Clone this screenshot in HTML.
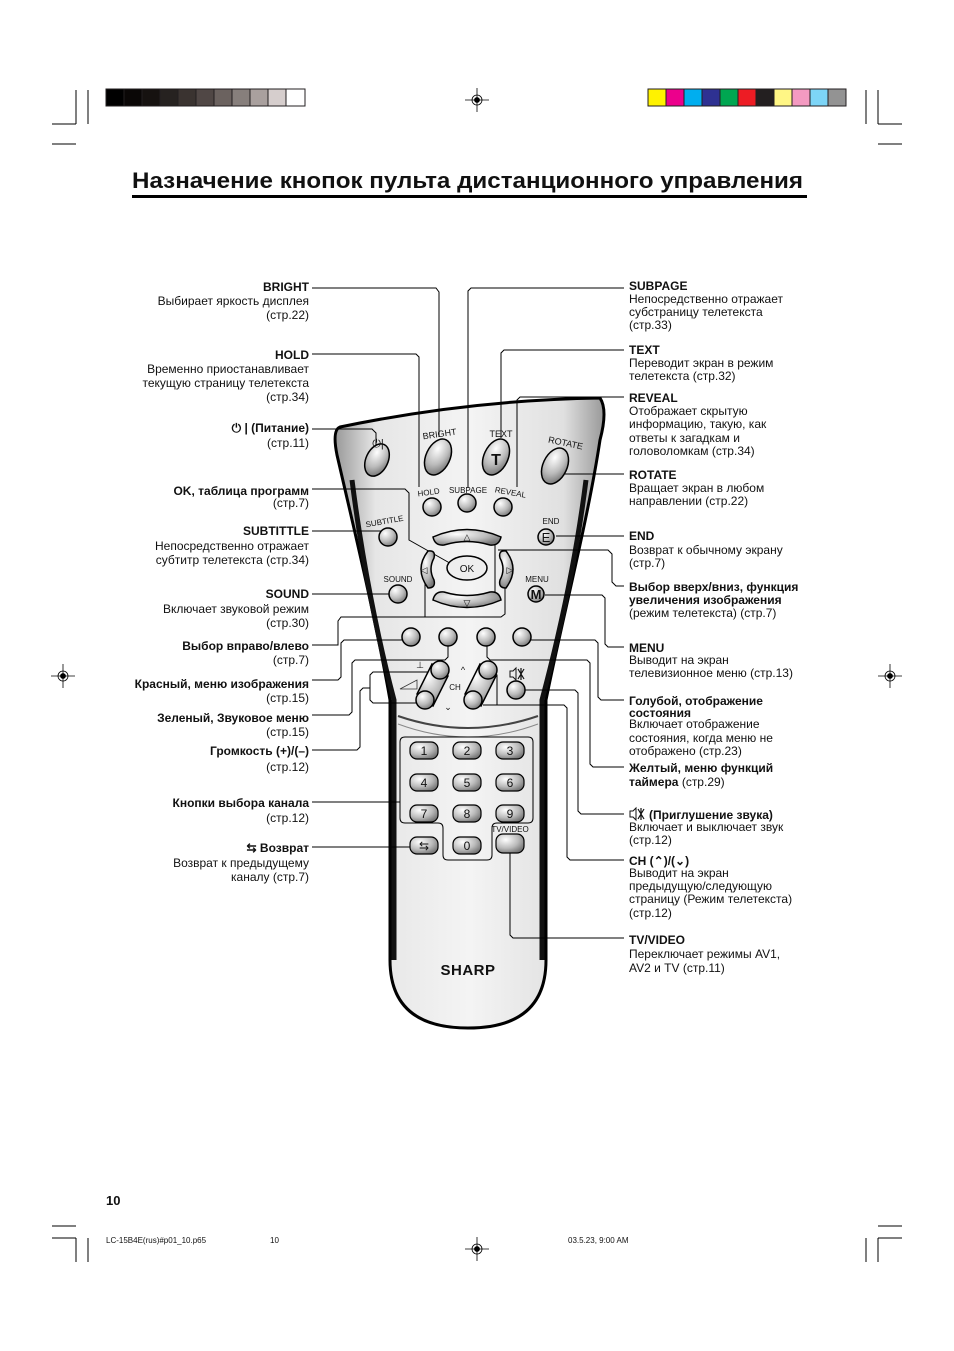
<!DOCTYPE html>
<html><head><meta charset="utf-8"><style>
html,body{margin:0;padding:0;background:#fff}
svg{display:block}
text{font-family:"Liberation Sans",Arial,sans-serif;font-size:12px;fill:#111}
.b{font-weight:bold}
.e{text-anchor:end}
.s{font-size:9px}
.c{text-anchor:middle}
</style></head><body>
<svg width="954" height="1351" viewBox="0 0 954 1351" xmlns="http://www.w3.org/2000/svg">
<defs>
<radialGradient id="g" cx="35%" cy="30%" r="75%"><stop offset="0" stop-color="#fff"/><stop offset="0.6" stop-color="#bbb"/><stop offset="1" stop-color="#777"/></radialGradient>
<linearGradient id="bd" x1="0" x2="1"><stop offset="0" stop-color="#999"/><stop offset="0.15" stop-color="#e6e6e6"/><stop offset="0.5" stop-color="#f4f4f4"/><stop offset="0.85" stop-color="#e0e0e0"/><stop offset="1" stop-color="#999"/></linearGradient>
<g id="mute"><path d="M0,-3 L3,-3 L6,-6 L6,6 L3,3 L0,3 Z" fill="none" stroke="#111" stroke-width="1"/><path d="M8,-5 L14,5 M14,-5 L8,5 M11,-6 L11,6" stroke="#111" stroke-width="1.2"/></g>
</defs>
<!-- top bars -->
<g stroke="#231f20" stroke-width="1">
<rect x="106" y="89" width="18" height="17" fill="#000"/><rect x="124" y="89" width="18" height="17" fill="#0a0706"/><rect x="142" y="89" width="18" height="17" fill="#161210"/><rect x="160" y="89" width="18" height="17" fill="#262220"/><rect x="178" y="89" width="18" height="17" fill="#3a3330"/><rect x="196" y="89" width="18" height="17" fill="#504745"/><rect x="214" y="89" width="18" height="17" fill="#6b625f"/><rect x="232" y="89" width="18" height="17" fill="#877f7c"/><rect x="250" y="89" width="18" height="17" fill="#a9a09e"/><rect x="268" y="89" width="18" height="17" fill="#d6cecd"/><rect x="286" y="89" width="19" height="17" fill="#fff"/>
<rect x="648" y="89" width="18" height="17" fill="#fff200"/><rect x="666" y="89" width="18" height="17" fill="#ec008c"/><rect x="684" y="89" width="18" height="17" fill="#00aeef"/><rect x="702" y="89" width="18" height="17" fill="#2e3192"/><rect x="720" y="89" width="18" height="17" fill="#00a651"/><rect x="738" y="89" width="18" height="17" fill="#ed1c24"/><rect x="756" y="89" width="18" height="17" fill="#231f20"/><rect x="774" y="89" width="18" height="17" fill="#fff685"/><rect x="792" y="89" width="18" height="17" fill="#f49ac1"/><rect x="810" y="89" width="18" height="17" fill="#7dd5f7"/><rect x="828" y="89" width="18" height="17" fill="#939393"/>
</g>
<!-- crop marks -->
<g stroke="#000" stroke-width="1">
<line x1="52" y1="124" x2="76" y2="124"/><line x1="52" y1="144" x2="76" y2="144"/><line x1="76" y1="90" x2="76" y2="124"/><line x1="88" y1="90" x2="88" y2="124"/>
<line x1="878" y1="124" x2="902" y2="124"/><line x1="878" y1="144" x2="902" y2="144"/><line x1="878" y1="90" x2="878" y2="124"/><line x1="866" y1="90" x2="866" y2="124"/>
<line x1="52" y1="1226" x2="76" y2="1226"/><line x1="52" y1="1238" x2="76" y2="1238"/><line x1="76" y1="1238" x2="76" y2="1262"/><line x1="88" y1="1238" x2="88" y2="1262"/>
<line x1="878" y1="1226" x2="902" y2="1226"/><line x1="878" y1="1238" x2="902" y2="1238"/><line x1="878" y1="1238" x2="878" y2="1262"/><line x1="866" y1="1238" x2="866" y2="1262"/>
</g>
<g stroke="#000" stroke-width="0.8" fill="none">
<g transform="translate(477,100)"><line x1="-12" y1="0" x2="12" y2="0"/><line x1="0" y1="-12" x2="0" y2="12"/><circle r="5"/><circle r="2.5" fill="#000"/></g>
<g transform="translate(477,1249)"><line x1="-12" y1="0" x2="12" y2="0"/><line x1="0" y1="-12" x2="0" y2="12"/><circle r="5"/><circle r="2.5" fill="#000"/></g>
<g transform="translate(63,676)"><line x1="-12" y1="0" x2="12" y2="0"/><line x1="0" y1="-12" x2="0" y2="12"/><circle r="5"/><circle r="2.5" fill="#000"/></g>
<g transform="translate(890,676)"><line x1="-12" y1="0" x2="12" y2="0"/><line x1="0" y1="-12" x2="0" y2="12"/><circle r="5"/><circle r="2.5" fill="#000"/></g>
</g>
<!-- title -->
<text x="132" y="188" class="b" style="font-size:22px" textLength="671" lengthAdjust="spacingAndGlyphs">Назначение кнопок пульта дистанционного управления</text>
<rect x="132" y="195" width="675" height="3" fill="#000"/>

<!-- remote body -->
<path d="M340,427 Q470,400 600,398 Q608,410 600,440 C588,520 562,620 546,700 L546,960 Q546,1028 468,1028 Q390,1028 390,960 L390,700 C376,620 352,520 337,455 Q332,430 340,427 Z" fill="url(#bd)" stroke="#000" stroke-width="3"/>
<path d="M352,480 C362,560 378,640 394,700 L394,960" fill="none" stroke="#111" stroke-width="5"/>
<path d="M586,480 C576,560 558,640 542,700 L542,960" fill="none" stroke="#111" stroke-width="5"/>
<path d="M398,716 Q468,740 538,716" fill="none" stroke="#444" stroke-width="2"/>
<path d="M398,724 Q468,750 538,724" fill="none" stroke="#888" stroke-width="1"/>

<!-- connectors -->
<g fill="none" stroke="#000" stroke-width="1">
<polyline points="312,288 436,288 439,292 439,437"/>
<polyline points="312,354 416,354 419,357 419,487"/>
<polyline points="312,429 372,429 376,433 376,452"/>
<polyline points="312,489 405,489 409,493 409,540 455,566"/>
<polyline points="312,531 385,531"/>
<polyline points="312,594 392,594"/>
<polyline points="312,645 338,645 338,621 341,617 501,617 505,614 505,583"/>
<line x1="425" y1="583" x2="425" y2="617"/>
<polyline points="312,680 338,680 341,677 341,643 344,640 403,640"/>
<polyline points="312,715 349,715 352,712 352,663 355,660 445,660 448,657 448,646"/>
<polyline points="312,750 357,750 360,747 360,691 363,688 370,688"/>
<polyline points="370,688 370,675 373,672 436,672"/>
<polyline points="370,688 370,700 373,703 420,703"/>
<polyline points="312,802 400,802"/>
<polyline points="312,847 410,847"/>
<polyline points="624,288 471,288 468,291 468,488"/>
<polyline points="624,350 504,350 501,353 501,438"/>
<polyline points="624,397 520,397 517,400 517,487"/>
<polyline points="624,474 565,474"/>
<polyline points="624,536 556,536"/>
<polyline points="624,586 616,586 612,582 612,554 608,550 498,550"/>
<polyline points="495,540 495,600 490,603 478,603"/>
<polyline points="624,647 608,647 605,644 605,598 602,595 545,595"/>
<polyline points="624,700 601,700 598,697 598,643 595,640 531,640"/>
<polyline points="624,767 593,767 590,764 590,663 587,660 490,660 487,657 487,646"/>
<polyline points="624,814 581,814 578,811 578,693 575,690 524,690"/>
<polyline points="624,860 570,860 567,857 567,708 564,705 497,705 497,675 494,672 490,672"/>
<polyline points="497,705 483,705"/>
<polyline points="624,938 513,938 510,935 510,852"/>
<path d="M400,802 L400,742 Q400,737 405,737 L528,737 Q533,737 533,742 L533,818 Q533,823 528,823 L497,823 Q492,823 492,828 L492,855 Q492,860 487,860 L448,860 Q443,860 443,855 L443,828 Q443,823 438,823 L405,823 Q400,823 400,818 Z"/>
</g>

<!-- buttons -->
<g stroke="#000" stroke-width="1.5" fill="url(#g)">
<ellipse cx="377" cy="460" rx="11" ry="17" transform="rotate(25 377 460)"/>
<ellipse cx="438" cy="457" rx="12" ry="19" transform="rotate(25 438 457)"/>
<ellipse cx="496" cy="457" rx="12" ry="19" transform="rotate(25 496 457)"/>
<ellipse cx="555" cy="466" rx="12" ry="19" transform="rotate(25 555 466)"/>
<circle cx="432" cy="507" r="9"/><circle cx="467" cy="503" r="9"/><circle cx="503" cy="507" r="9"/>
<circle cx="388" cy="537" r="9"/><circle cx="398" cy="594" r="9"/>
<circle cx="546" cy="537" r="8"/><circle cx="536" cy="594" r="8"/>
<circle cx="411" cy="637" r="9"/><circle cx="448" cy="637" r="9"/><circle cx="486" cy="637" r="9"/><circle cx="522" cy="637" r="9"/>
<circle cx="516" cy="690" r="9"/>
<path d="M433,537 Q467,522 501,537 Q499,546 490,545 Q467,538 444,545 Q435,546 433,537 Z"/>
<path d="M433,600 Q467,615 501,600 Q499,591 490,592 Q467,599 444,592 Q435,591 433,600 Z"/>
<path d="M428,551 Q414,569 428,588 Q436,588 434,580 Q428,569 434,558 Q436,550 428,551 Z"/>
<path d="M506,551 Q520,569 506,588 Q498,588 500,580 Q506,569 500,558 Q498,550 506,551 Z"/>
<ellipse cx="467" cy="568" rx="20" ry="12" fill="#eee"/>
<path d="M432,664 L448,676 L433,706 L417,694 Z" />
<circle cx="440" cy="670" r="9"/><circle cx="425" cy="700" r="9"/>
<path d="M480,664 L496,676 L481,706 L465,694 Z"/>
<circle cx="488" cy="670" r="9"/><circle cx="473" cy="700" r="9"/>
</g>
<g stroke="#000" stroke-width="1.2" fill="url(#g)">
<rect x="410" y="742" width="28" height="17" rx="7"/><rect x="453" y="742" width="28" height="17" rx="7"/><rect x="496" y="742" width="28" height="17" rx="7"/>
<rect x="410" y="774" width="28" height="17" rx="7"/><rect x="453" y="774" width="28" height="17" rx="7"/><rect x="496" y="774" width="28" height="17" rx="7"/>
<rect x="410" y="805" width="28" height="17" rx="7"/><rect x="453" y="805" width="28" height="17" rx="7"/><rect x="496" y="805" width="28" height="17" rx="7"/>
<rect x="410" y="837" width="28" height="17" rx="7"/><rect x="453" y="837" width="28" height="17" rx="7"/><rect x="496" y="834" width="28" height="19" rx="7"/>
</g>
<g class="c">
<text x="424" y="755" class="c">1</text><text x="467" y="755" class="c">2</text><text x="510" y="755" class="c">3</text>
<text x="424" y="787" class="c">4</text><text x="467" y="787" class="c">5</text><text x="510" y="787" class="c">6</text>
<text x="424" y="818" class="c">7</text><text x="467" y="818" class="c">8</text><text x="510" y="818" class="c">9</text>
<text x="467" y="850" class="c">0</text><text x="424" y="850" class="c">⇆</text>
</g>
<text x="510" y="832" class="s c" style="font-size:8px">TV/VIDEO</text>
<text x="467" y="572" class="s c" style="font-size:10px">OK</text>
<text x="467" y="540" class="s c">△</text><text x="467" y="606" class="s c">▽</text>
<text x="424" y="573" class="s c">◁</text><text x="510" y="573" class="s c">▷</text>
<text x="496" y="465" class="b c" style="font-size:16px">T</text>
<text x="546" y="542" class="c" style="font-size:13px">E</text>
<text x="536" y="599" class="b c" style="font-size:13px">M</text>
<text x="378" y="447" class="c" style="font-size:11px">⏻|</text>
<text x="440" y="437" class="s c" transform="rotate(-8 440 437)">BRIGHT</text>
<text x="501" y="437" class="s c">TEXT</text>
<text x="565" y="446" class="s c" transform="rotate(12 565 446)">ROTATE</text>
<text x="429" y="495" class="s c" transform="rotate(-8 429 495)" style="font-size:8px">HOLD</text>
<text x="468" y="493" class="s c" style="font-size:8px">SUBPAGE</text>
<text x="510" y="495" class="s c" transform="rotate(10 510 495)" style="font-size:8px">REVEAL</text>
<text x="385" y="524" class="s c" transform="rotate(-10 385 524)" style="font-size:8px">SUBTITLE</text>
<text x="551" y="524" class="s c" style="font-size:8px">END</text>
<text x="398" y="582" class="s c" style="font-size:8px">SOUND</text>
<text x="537" y="582" class="s c" style="font-size:8px">MENU</text>
<text x="455" y="690" class="s c" style="font-size:8px">CH</text>
<text x="420" y="668" class="s c">⊥</text>
<path d="M400,689 L417,680 L417,689 Z" fill="none" stroke="#333" stroke-width="0.8"/>
<text x="463" y="673" class="s c">^</text>
<text x="448" y="710" class="s c">⌄</text>
<use href="#mute" x="510" y="674"/>
<text x="468" y="975" class="b c" style="font-size:15px;letter-spacing:0.5px">SHARP</text>

<!-- left labels -->
<g class="e">
<text x="309" y="291" class="b e">BRIGHT</text><text x="309" y="305" class="e">Выбирает яркость дисплея</text><text x="309" y="319" class="e">(стр.22)</text>
<text x="309" y="359" class="b e">HOLD</text><text x="309" y="373" class="e">Временно приостанавливает</text><text x="309" y="387" class="e">текущую страницу телетекста</text><text x="309" y="401" class="e">(стр.34)</text>
<text x="309" y="432" class="b e">⏻ | (Питание)</text><text x="309" y="447" class="e">(стр.11)</text>
<text x="309" y="495" class="b e">OK, таблица программ</text><text x="309" y="507" class="e">(стр.7)</text>
<text x="309" y="535" class="b e">SUBTITTLE</text><text x="309" y="550" class="e">Непосредственно отражает</text><text x="309" y="564" class="e">субтитр телетекста (стр.34)</text>
<text x="309" y="598" class="b e">SOUND</text><text x="309" y="613" class="e">Включает звуковой режим</text><text x="309" y="627" class="e">(стр.30)</text>
<text x="309" y="650" class="b e">Выбор вправо/влево</text><text x="309" y="664" class="e">(стр.7)</text>
<text x="309" y="688" class="b e">Красный, меню изображения</text><text x="309" y="702" class="e">(стр.15)</text>
<text x="309" y="722" class="b e">Зеленый, Звуковое меню</text><text x="309" y="736" class="e">(стр.15)</text>
<text x="309" y="755" class="b e">Громкость (+)/(–)</text><text x="309" y="771" class="e">(стр.12)</text>
<text x="309" y="807" class="b e">Кнопки выбора канала</text><text x="309" y="822" class="e">(стр.12)</text>
<text x="309" y="852" class="b e">⇆ Возврат</text><text x="309" y="867" class="e">Возврат к предыдущему</text><text x="309" y="881" class="e">каналу (стр.7)</text>
</g>
<!-- right labels -->
<text x="629" y="290" class="b">SUBPAGE</text><text x="629" y="303">Непосредственно отражает</text><text x="629" y="316">субстраницу телетекста</text><text x="629" y="329">(стр.33)</text>
<text x="629" y="354" class="b">TEXT</text><text x="629" y="367">Переводит экран в режим</text><text x="629" y="380">телетекста (стр.32)</text>
<text x="629" y="402" class="b">REVEAL</text><text x="629" y="415">Отображает скрытую</text><text x="629" y="428">информацию, такую, как</text><text x="629" y="442">ответы к загадкам и</text><text x="629" y="455">головоломкам (стр.34)</text>
<text x="629" y="479" class="b">ROTATE</text><text x="629" y="492">Вращает экран в любом</text><text x="629" y="505">направлении (стр.22)</text>
<text x="629" y="540" class="b">END</text><text x="629" y="554">Возврат к обычному экрану</text><text x="629" y="567">(стр.7)</text>
<text x="629" y="591" class="b">Выбор вверх/вниз, функция</text><text x="629" y="604" class="b">увеличения изображения</text><text x="629" y="617">(режим телетекста) (стр.7)</text>
<text x="629" y="652" class="b">MENU</text><text x="629" y="664">Выводит на экран</text><text x="629" y="677">телевизионное меню (стр.13)</text>
<text x="629" y="705" class="b">Голубой, отображение</text><text x="629" y="717" class="b">состояния</text><text x="629" y="728">Включает отображение</text><text x="629" y="742">состояния, когда меню не</text><text x="629" y="755">отображено (стр.23)</text>
<text x="629" y="772" class="b">Желтый, меню функций</text><text x="629" y="786"><tspan class="b">таймера</tspan> (стр.29)</text>
<use href="#mute" x="630" y="814"/>
<text x="649" y="819" class="b">(Приглушение звука)</text><text x="629" y="831">Включает и выключает звук</text><text x="629" y="844">(стр.12)</text>
<text x="629" y="865" class="b">CH (⌃)/(⌄)</text><text x="629" y="877">Выводит на экран</text><text x="629" y="890">предыдущую/следующую</text><text x="629" y="903">страницу (Режим телетекста)</text><text x="629" y="917">(стр.12)</text>
<text x="629" y="944" class="b">TV/VIDEO</text><text x="629" y="958">Переключает режимы AV1,</text><text x="629" y="972">AV2 и TV (стр.11)</text>

<text x="106" y="1205" class="b" style="font-size:13px">10</text>
<text x="106" y="1243" style="font-size:8px">LC-15B4E(rus)#p01_10.p65</text>
<text x="270" y="1243" style="font-size:8px">10</text>
<text x="568" y="1243" style="font-size:8px">03.5.23, 9:00 AM</text>
</svg>
</body></html>
